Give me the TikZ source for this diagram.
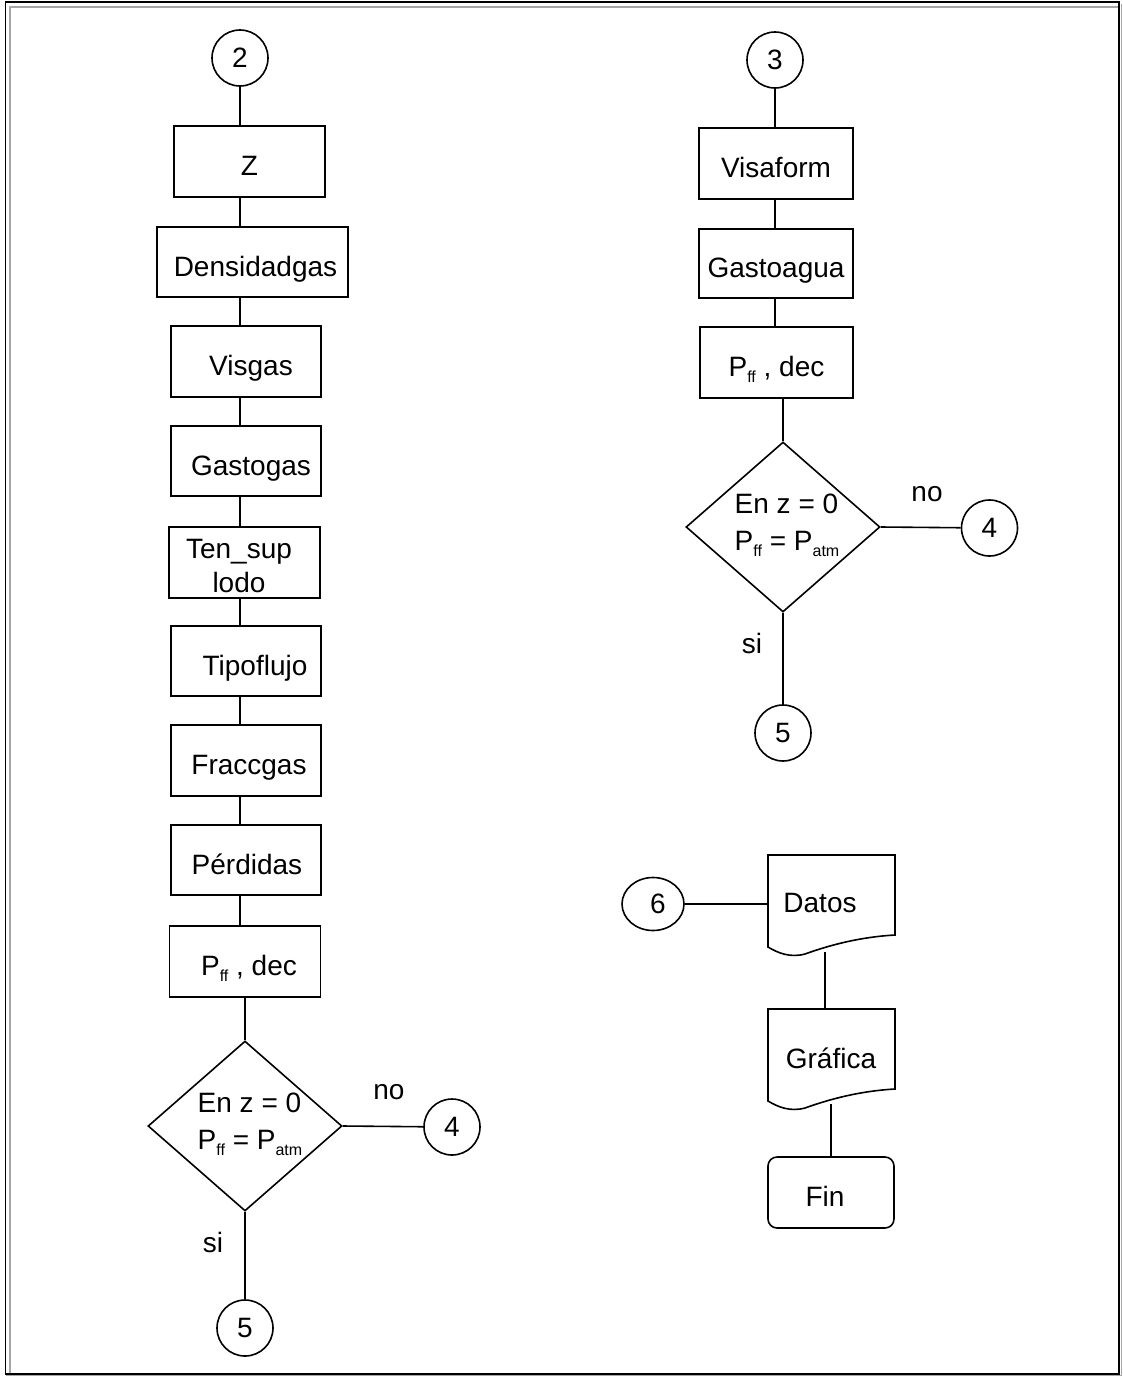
\documentclass[tikz,border=0pt]{standalone}
\usepackage{fontspec}
\setmainfont{Liberation Sans}
\usetikzlibrary{shapes.geometric}
\newcommand{\sbs}[1]{\raisebox{-6pt}{\fontsize{16}{16}\selectfont #1}}
\begin{document}
\begin{tikzpicture}[x=1pt,y=-1pt,line width=1.6pt,
  every node/.style={font=\fontsize{28}{34}\selectfont},
  procbox/.style={draw,rectangle,inner sep=0pt,text height=28pt,text depth=0pt},
  conn/.style={draw,circle,inner sep=0pt,minimum size=56pt},
  decision/.style={draw,diamond,inner sep=0pt,minimum width=194pt,minimum height=170pt},
  area/.style={draw=none,rectangle,inner sep=0pt},
  lbl/.style={inner sep=0pt}]
\useasboundingbox (0,0) rectangle (1123,1376);
% frame
\draw[gray!70,line width=1.4pt] (10,1374) -- (10,7) -- (1119,7);
\draw[gray!70,line width=1pt] (1121.5,4) -- (1121.5,1375.5) -- (6,1375.5);
\draw[black,line width=1.4pt] (5.5,2) rectangle (1119,1374);

% ---------- left column ----------
\node[conn] (c2) at (240,58) {2};
\node[procbox,minimum width=151pt,minimum height=71pt] (z) at (249.5,161.5) {Z};
\node[procbox,minimum width=191pt,minimum height=70pt] (dens) at (252.5,262) {\hspace{6pt}Densidadgas};
\node[procbox,minimum width=150pt,minimum height=71pt] (visgas) at (246,361.5) {\hspace{10pt}Visgas};
\node[procbox,minimum width=150pt,minimum height=70pt] (gastogas) at (246,461) {\hspace{10pt}Gastogas};
\node[draw,rectangle,inner sep=0pt,minimum width=151pt,minimum height=71pt] (ten) at (244.5,562.5) {};
\node[lbl,align=center,font=\fontsize{28}{34}\selectfont] (tent) at (239,566) {Ten\_sup\\lodo};
\node[procbox,minimum width=150pt,minimum height=70pt] (tipo) at (246,661) {\hspace{18pt}Tipoflujo};
\node[procbox,minimum width=150pt,minimum height=71pt] (fracc) at (246,760.5) {\hspace{6pt}Fraccgas};
\node[procbox,minimum width=150pt,minimum height=70pt] (perd) at (246,860) {\hspace{2pt}Pérdidas};
\node[procbox,minimum width=151pt,minimum height=71pt] (pff1) at (245,961.5) {\hspace{8pt}P\sbs{ff} , dec};
\node[decision] (d1) at (245,1126) {};
\node[lbl,align=left,font=\fontsize{28}{37}\selectfont] (d1t) at (250,1124) {En z = 0\\P\sbs{ff} = P\sbs{atm}};
\node[conn] (c4a) at (452,1127) {4};
\node[conn] (c5a) at (245,1328) {5};
\node[lbl] (no1) at (389,1092) {no};
\node[lbl] (si1) at (213,1242) {si};

\draw (c2) -- (c2 |- z.north);
\draw (c2 |- z.south) -- (c2 |- dens.north);
\draw (c2 |- dens.south) -- (c2 |- visgas.north);
\draw (c2 |- visgas.south) -- (c2 |- gastogas.north);
\draw (c2 |- gastogas.south) -- (c2 |- ten.north);
\draw (c2 |- ten.south) -- (c2 |- tipo.north);
\draw (c2 |- tipo.south) -- (c2 |- fracc.north);
\draw (c2 |- fracc.south) -- (c2 |- perd.north);
\draw (c2 |- perd.south) -- (c2 |- pff1.north);
\draw (d1 |- pff1.south) -- (d1.north);
\draw (d1.east) -- (c4a);
\draw (d1.south) -- (c5a);

% ---------- right column ----------
\node[conn] (c3) at (775,60) {3};
\node[procbox,minimum width=154pt,minimum height=71pt] (visa) at (776,163.5) {Visaform};
\node[procbox,minimum width=154pt,minimum height=69pt] (gagua) at (776,263.5) {Gastoagua};
\node[procbox,minimum width=153pt,minimum height=71pt] (pff2) at (776.5,362.5) {P\sbs{ff} , dec};
\node[decision] (d2) at (783,527) {};
\node[lbl,align=left,font=\fontsize{28}{37}\selectfont] (d2t) at (787,525) {En z = 0\\P\sbs{ff} = P\sbs{atm}};
\node[conn] (c4b) at (989.5,528) {4};
\node[conn] (c5b) at (783,733) {5};
\node[lbl] (no2) at (927,494) {no};
\node[lbl] (si2) at (752,643) {si};

\draw (c3) -- (c3 |- visa.north);
\draw (c3 |- visa.south) -- (c3 |- gagua.north);
\draw (c3 |- gagua.south) -- (c3 |- pff2.north);
\draw (d2 |- pff2.south) -- (d2.north);
\draw (d2.east) -- (c4b);
\draw (d2.south) -- (c5b);

% ---------- output section ----------
\tikzset{docpic/.pic={\draw (-63.5,42) -- (-63.5,-50) -- (63.5,-50) -- (63.5,30)
   .. controls (28.5,32) and (-1.5,40) .. (-26.5,49)
   .. controls (-41.5,53) and (-53.5,48) .. (-63.5,42) -- cycle;}}
\node[draw,ellipse,inner sep=0pt,minimum width=62pt,minimum height=53pt] (c6) at (653,904) {\hspace{10pt}6};
\node[area,minimum width=127pt,minimum height=100pt] (datos) at (831.5,905) {};
\pic at (831.5,905) {docpic};
\node[lbl] (datost) at (820,903) {Datos};
\node[area,minimum width=127pt,minimum height=100pt] (graf) at (831.5,1059) {};
\pic at (831.5,1059) {docpic};
\node[lbl] (graft) at (831,1058) {Gráfica};
\node[procbox,rounded corners=9pt,minimum width=126pt,minimum height=71pt] (fin) at (831,1192.5) {\hspace{-12pt}Fin};

\draw (c6) -- (datos.west |- c6);
\draw ([xshift=-6.5pt]datos.center |- 0,952) -- ([xshift=-6.5pt]graf.north);
\draw (fin.north) -- (fin.north |- 0,1104);
\end{tikzpicture}
\end{document}
